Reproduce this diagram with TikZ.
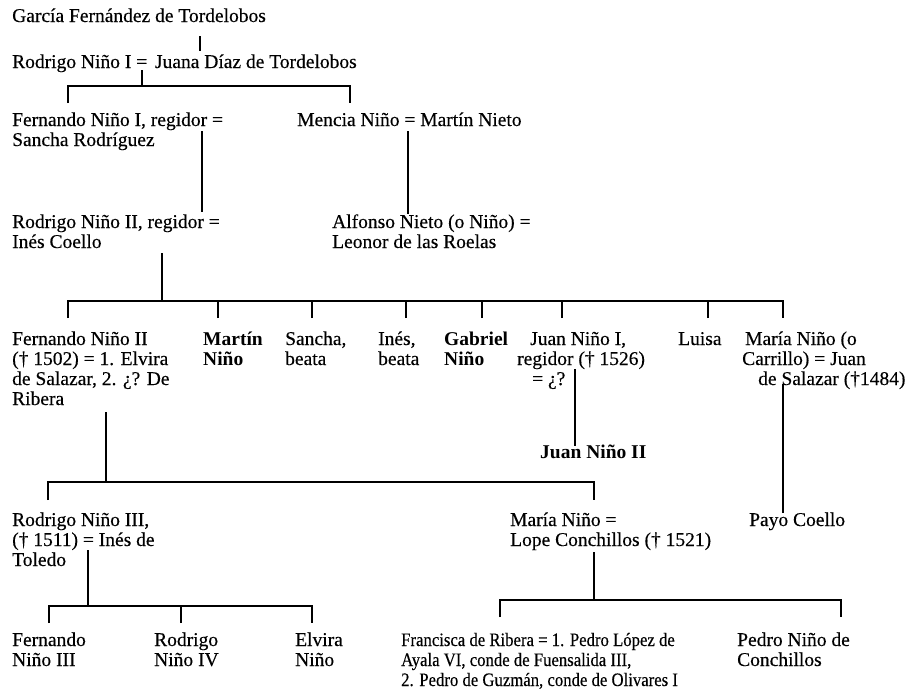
\documentclass[tikz,border=0pt]{standalone}
\usepackage{fontspec}
\setmainfont{Liberation Serif}[UprightFeatures={FakeBold=0.3}]
\newfontfamily\narrowserif{Liberation Serif}[FakeStretch=0.88,FakeBold=0.3]
\newcommand\fs{\fontsize{19.5}{20}\selectfont}
\newcommand\ml[1]{\begin{tabular}[t]{@{}l@{}}#1\end{tabular}}
\begin{document}
\begin{tikzpicture}[x=1pt,y=-1pt,
  p/.style={anchor=base west,inner sep=0pt,font=\fs},
  pb/.style={p,font=\fs\bfseries},
  pn/.style={p,font=\narrowserif\fontsize{19}{20}\selectfont},
  ln/.style={line width=1.4pt,black}]
\fill[white] (0,0) rectangle (913,696);
\useasboundingbox (0,0) rectangle (913,696);

% ---------- people ----------
\node[p] (garcia) at (12,22) {García Fernández de Tordelobos};
\node[p] (rod1) at (12,68) {Rodrigo Niño I =\hspace{0.4em}Juana Díaz de Tordelobos};
\node[p] (fer1) at (12,126) {\ml{Fernando Niño I, regidor =\\Sancha Rodríguez}};
\node[p] (men) at (297,126) {Mencia Niño = Martín Nieto};
\node[p] (rod2) at (12,228) {\ml{Rodrigo Niño II, regidor =\\Inés Coello}};
\node[p] (alf) at (332,228) {\ml{Alfonso Nieto (o Niño) =\\Leonor de las Roelas}};
\node[p] (fer2) at (12,345) {\ml{Fernando Niño II\\(† 1502) = 1. Elvira\\de Salazar, 2. ¿? De\\Ribera}};
\node[pb] (mar) at (203,345) {\ml{Martín\\Niño}};
\node[p] (san) at (285,345) {\ml{Sancha,\\beata}};
\node[p] (ine) at (378,345) {\ml{Inés,\\beata}};
\node[pb] (gab) at (444,345) {\ml{Gabriel\\Niño}};
\node[p] (jua1) at (517,345) {\ml{\hspace*{13pt}Juan Niño I,\\regidor († 1526)\\\hspace*{15pt}= ¿?}};
\node[p] (lui) at (678,345) {Luisa};
\node[p] (mar1) at (742,345) {\ml{\hspace*{3pt}María Niño (o\\Carrillo) = Juan\\\hspace*{16pt}de Salazar (†1484)}};
\node[pb] (jua2) at (540,458) {Juan Niño II};
\node[p] (rod3) at (12,526) {\ml{Rodrigo Niño III,\\(† 1511) = Inés de\\Toledo}};
\node[p] (mar2) at (510,526) {\ml{María Niño =\\Lope Conchillos († 1521)}};
\node[p] (payo) at (749,526) {Payo Coello};
\node[p] (fer3) at (12,646) {\ml{Fernando\\Niño III}};
\node[p] (rod4) at (154,646) {\ml{Rodrigo\\Niño IV}};
\node[p] (elv) at (295,646) {\ml{Elvira\\Niño}};
\node[pn] (fra) at (401,646) {\ml{Francisca de Ribera = 1. Pedro López de\\Ayala VI, conde de Fuensalida III,\\2. Pedro de Guzmán, conde de Olivares I}};
\node[p] (ped) at (737,646) {\ml{Pedro Niño de\\Conchillos}};

% ---------- junction points ----------
\coordinate (garcia-d) at (200,36);  \coordinate (rod1-u) at (200,51);
\coordinate (rod1-d) at (142,70);    \coordinate (bar1) at (142,86);
\coordinate (fer1-t) at (68,103);    \coordinate (men-t) at (350,103);
\coordinate (fer1-d) at (202,131);   \coordinate (rod2-u) at (202,212);
\coordinate (men-d) at (408,131);    \coordinate (alf-u) at (408,214);
\coordinate (rod2-d) at (162,253);   \coordinate (bar2) at (162,301);
\coordinate (jua1-d) at (575,369);   \coordinate (jua2-u) at (575,446);
\coordinate (mar1-d) at (783,384);   \coordinate (payo-u) at (783,513);
\coordinate (fer2-d) at (106,412);   \coordinate (bar3) at (106,482);
\coordinate (rod3-t) at (48,500);    \coordinate (mar2-t) at (594,500);
\coordinate (rod3-d) at (88,550);    \coordinate (bar4) at (88,606);
\coordinate (fer3-t) at (49,623);    \coordinate (rod4-t) at (181,623);  \coordinate (elv-t) at (312,623);
\coordinate (mar2-d) at (594,552);   \coordinate (bar5) at (594,600);
\coordinate (fra-t) at (500,617);    \coordinate (ped-t) at (841,617);

% ---------- connectors ----------
\draw[ln] (garcia-d) -- (rod1-u);
\draw[ln] (rod1-d) -- (bar1);
\draw[ln] (fer1-t) -- (fer1-t |- bar1) -- (men-t |- bar1) -- (men-t);
\draw[ln] (fer1-d) -- (rod2-u);
\draw[ln] (men-d) -- (alf-u);

\draw[ln] (rod2-d) -- (bar2);
\foreach \n/\x in {fer2/68, mar/218, san/312, ine/406, gab/482, jua1/562, lui/708, mar1/783}
  \coordinate (\n-t) at (\x,318);
\draw[ln] (fer2-t) -- (fer2-t |- bar2) -- (mar1-t |- bar2) -- (mar1-t);
\foreach \n in {mar, san, ine, gab, jua1, lui}
  \draw[ln] (\n-t) -- (\n-t |- bar2);

\draw[ln] (jua1-d) -- (jua2-u);
\draw[ln] (mar1-d) -- (payo-u);

\draw[ln] (fer2-d) -- (bar3);
\draw[ln] (rod3-t) -- (rod3-t |- bar3) -- (mar2-t |- bar3) -- (mar2-t);

\draw[ln] (rod3-d) -- (bar4);
\draw[ln] (fer3-t) -- (fer3-t |- bar4) -- (elv-t |- bar4) -- (elv-t);
\draw[ln] (rod4-t) -- (rod4-t |- bar4);

\draw[ln] (mar2-d) -- (bar5);
\draw[ln] (fra-t) -- (fra-t |- bar5) -- (ped-t |- bar5) -- (ped-t);
\end{tikzpicture}
\end{document}
